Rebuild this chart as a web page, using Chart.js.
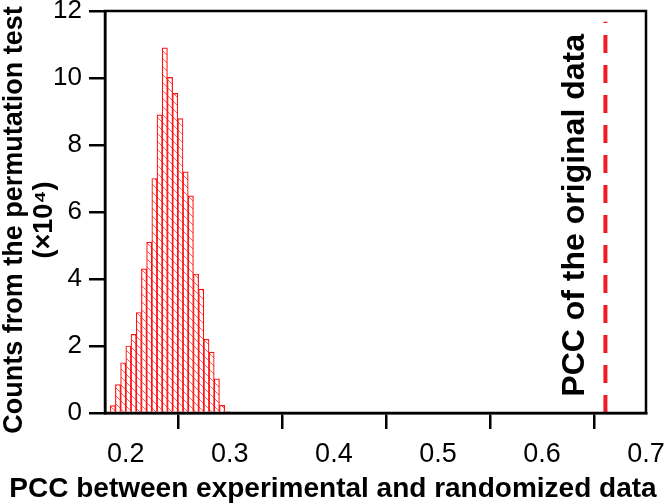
<!DOCTYPE html>
<html>
<head>
<meta charset="utf-8">
<script src="https://cdn.jsdelivr.net/npm/chart.js@4"></script>
<style>
  html, body { margin: 0; padding: 0; background: #fff; }
  #wrap { width: 669px; height: 504px; }
</style>
</head>
<body>
<div id="wrap"><canvas id="c" width="669" height="504"></canvas></div>
<script>
// histogram bins (left edge of each bin, width 0.005)
const binStart = [0.185, 0.190, 0.195, 0.200, 0.205, 0.210, 0.215, 0.220, 0.225, 0.230,
                  0.235, 0.240, 0.245, 0.250, 0.255, 0.260, 0.265, 0.270, 0.275, 0.280,
                  0.285, 0.290, 0.295];
const binWidth = 0.005;
// counts, x10^4
const counts = [0.22, 0.85, 1.5, 2.0, 2.35, 3.0, 4.3, 5.1, 7.0, 8.9,
                10.9, 10.02, 9.54, 8.79, 7.2, 6.48, 4.15, 3.7, 2.2, 1.82,
                1.02, 0.23, 0.04];
const originalPCC = 0.661;
const xTicks = [0.2, 0.3, 0.4, 0.5, 0.6, 0.7];
const yTicks = [0, 2, 4, 6, 8, 10, 12];

const red = '#ff1010';
const FONT = 'Arial, "Liberation Sans", sans-serif';
Chart.defaults.font.family = FONT;
Chart.defaults.color = '#000';

function hatch() {
  const c = document.createElement('canvas');
  c.width = 8; c.height = 8;
  const g = c.getContext('2d');
  g.fillStyle = '#fff';
  g.fillRect(0, 0, 8, 8);
  g.strokeStyle = 'rgba(255,40,40,0.75)';
  g.lineWidth = 1;
  g.beginPath();
  g.moveTo(-2, -2); g.lineTo(10, 10);
  g.moveTo(-2, 6); g.lineTo(2, 10);
  g.moveTo(6, -2); g.lineTo(10, 2);
  g.stroke();
  return g.createPattern(c, 'repeat');
}

const frame = {
  id: 'boxframe',
  afterDraw: chart => {
    const ctx = chart.ctx;
    const a = chart.chartArea;
    ctx.save();
    ctx.setLineDash([]);
    ctx.strokeStyle = '#000';
    ctx.lineWidth = 2.5;
    ctx.beginPath();
    ctx.moveTo(a.left, a.top);
    ctx.lineTo(a.right, a.top);
    ctx.lineTo(a.right, a.bottom);
    ctx.lineTo(a.left, a.bottom);
    ctx.closePath();
    ctx.stroke();

    ctx.fillStyle = '#000';
    ctx.textAlign = 'center';
    ctx.textBaseline = 'middle';

    // x axis title
    ctx.font = 'bold 28px ' + FONT;
    ctx.fillText('PCC between experimental and randomized data', 333, 489);

    // y axis title (two lines)
    ctx.save();
    ctx.translate(15, 220);
    ctx.rotate(-Math.PI / 2);
    ctx.font = 'bold 27px ' + FONT;
    ctx.fillText('Counts from the permutation test', 0, 0);
    ctx.fillText('(×10⁴)', 0, 30);
    ctx.restore();

    // label of the dashed line
    const x = chart.scales.x.getPixelForValue(0.632);
    const y = chart.scales.y.getPixelForValue(5.9);
    ctx.translate(x, y);
    ctx.rotate(-Math.PI / 2);
    ctx.font = 'bold 32px ' + FONT;
    ctx.fillText('PCC of the original data', 0, 0);
    ctx.restore();
  }
};

new Chart(document.getElementById('c'), {
  type: 'bar',
  plugins: [frame],
  data: {
    datasets: [{
      type: 'bar',
      data: binStart.map((b, i) => ({ x: b + binWidth / 2, y: counts[i] })),
      backgroundColor: hatch(),
      borderColor: red,
      borderWidth: 1.2,
      barPercentage: 1,
      categoryPercentage: 1,
      order: 2
    }, {
      type: 'line',
      data: [{ x: originalPCC, y: 0 }, { x: originalPCC, y: 11.68 }],
      borderColor: '#ee1c25',
      borderWidth: 4,
      borderDash: [18, 12],
      pointRadius: 0,
      order: 1
    }]
  },
  options: {
    responsive: false,
    animation: false,
    layout: { padding: { left: 0, top: 11, right: 23, bottom: 0 } },
    plugins: { legend: { display: false }, tooltip: { enabled: false } },
    scales: {
      x: {
        type: 'linear',
        min: 0.18,
        max: 0.7,
        offset: false,
        afterBuildTicks: s => { s.ticks = xTicks.map(v => ({ value: v })); },
        afterFit: s => { s.height = 91; s.paddingLeft = 0; s.paddingRight = 0; },
        border: { display: true, width: 2.5, color: '#000' },
        grid: { drawOnChartArea: false, tickLength: 16, lineWidth: 2.5, color: '#000' },
        ticks: {
          padding: 9,
          font: { size: 27 },
          color: '#000',
          maxRotation: 0,
          callback: v => v.toFixed(1)
        }
      },
      y: {
        min: 0,
        max: 12,
        afterBuildTicks: s => { s.ticks = yTicks.map(v => ({ value: v })); },
        afterFit: s => { s.width = 105; s.paddingTop = 0; s.paddingBottom = 0; },
        border: { display: true, width: 2.5, color: '#000' },
        grid: { drawOnChartArea: false, tickLength: 16, lineWidth: 2.5, color: '#000' },
        ticks: { padding: 7, font: { size: 26 }, color: '#000' }
      }
    }
  }
});
</script>
</body>
</html>
